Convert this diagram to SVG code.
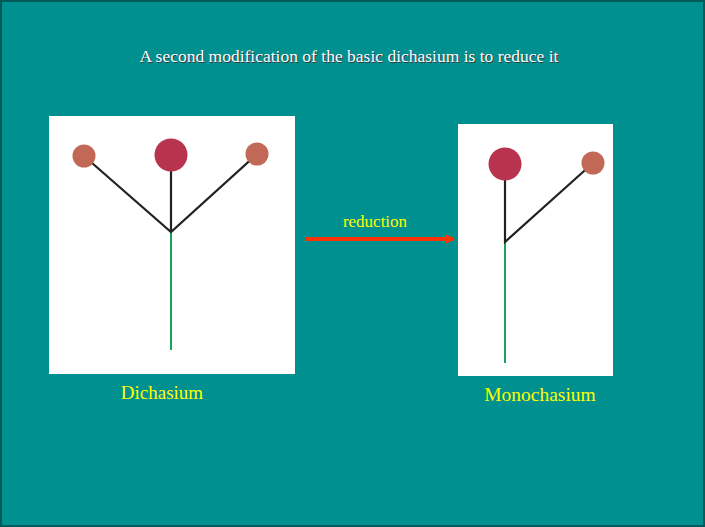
<svg xmlns="http://www.w3.org/2000/svg" width="705" height="527" viewBox="0 0 705 527">
<defs>
<style>
text{font-family:"Liberation Serif","Times New Roman",serif}
.lbl{fill:#ffff00}
.panel{fill:#ffffff}
.br{stroke:#222;stroke-width:2.2;fill:none}
.stem{stroke:#1aa35a;stroke-width:2;fill:none}
.big{fill:#b8334d}
.small{fill:#c26856}
</style>
<marker id="ah" markerWidth="10" markerHeight="10" refX="9" refY="5" orient="auto" markerUnits="userSpaceOnUse"><path d="M0,0 L10,5 L0,10 Z" fill="#ff3300"/></marker>
</defs>
<rect x="1" y="1" width="703" height="525" fill="#009090" stroke="#005a5a" stroke-width="2"/>
<text x="349" y="62" text-anchor="middle" font-size="17.5" fill="#3a3a3a" transform="translate(1,1)">A second modification of the basic dichasium is to reduce it</text>
<text x="349" y="62" text-anchor="middle" font-size="17.5" fill="#ffffff">A second modification of the basic dichasium is to reduce it</text>
<g id="dichasium">
<rect class="panel" x="49" y="116" width="246" height="258"/>
<line class="stem" x1="171" y1="232" x2="171" y2="350"/>
<path class="br" d="M84,156 L171,232 L257,154 M171,155 L171,232"/>
<circle class="small" cx="84" cy="156" r="11.5"/>
<circle class="big" cx="171" cy="155" r="16.5"/>
<circle class="small" cx="257" cy="154" r="11.5"/>
<text class="lbl" x="162" y="399" text-anchor="middle" font-size="19">Dichasium</text>
</g>
<g id="monochasium">
<rect class="panel" x="458" y="124" width="155" height="252"/>
<line class="stem" x1="505" y1="242" x2="505" y2="363"/>
<path class="br" d="M505,164 L505,242 L593,163"/>
<circle class="big" cx="505" cy="164" r="16.5"/>
<circle class="small" cx="593" cy="163" r="11.5"/>
<text class="lbl" x="540" y="401" text-anchor="middle" font-size="19.5">Monochasium</text>
</g>
<g id="connectors">
<line x1="306" y1="239" x2="454" y2="239" stroke="#ff3300" stroke-width="4" marker-end="url(#ah)"/>
<text class="lbl" x="375" y="227" text-anchor="middle" font-size="17">reduction</text>
</g>
</svg>
